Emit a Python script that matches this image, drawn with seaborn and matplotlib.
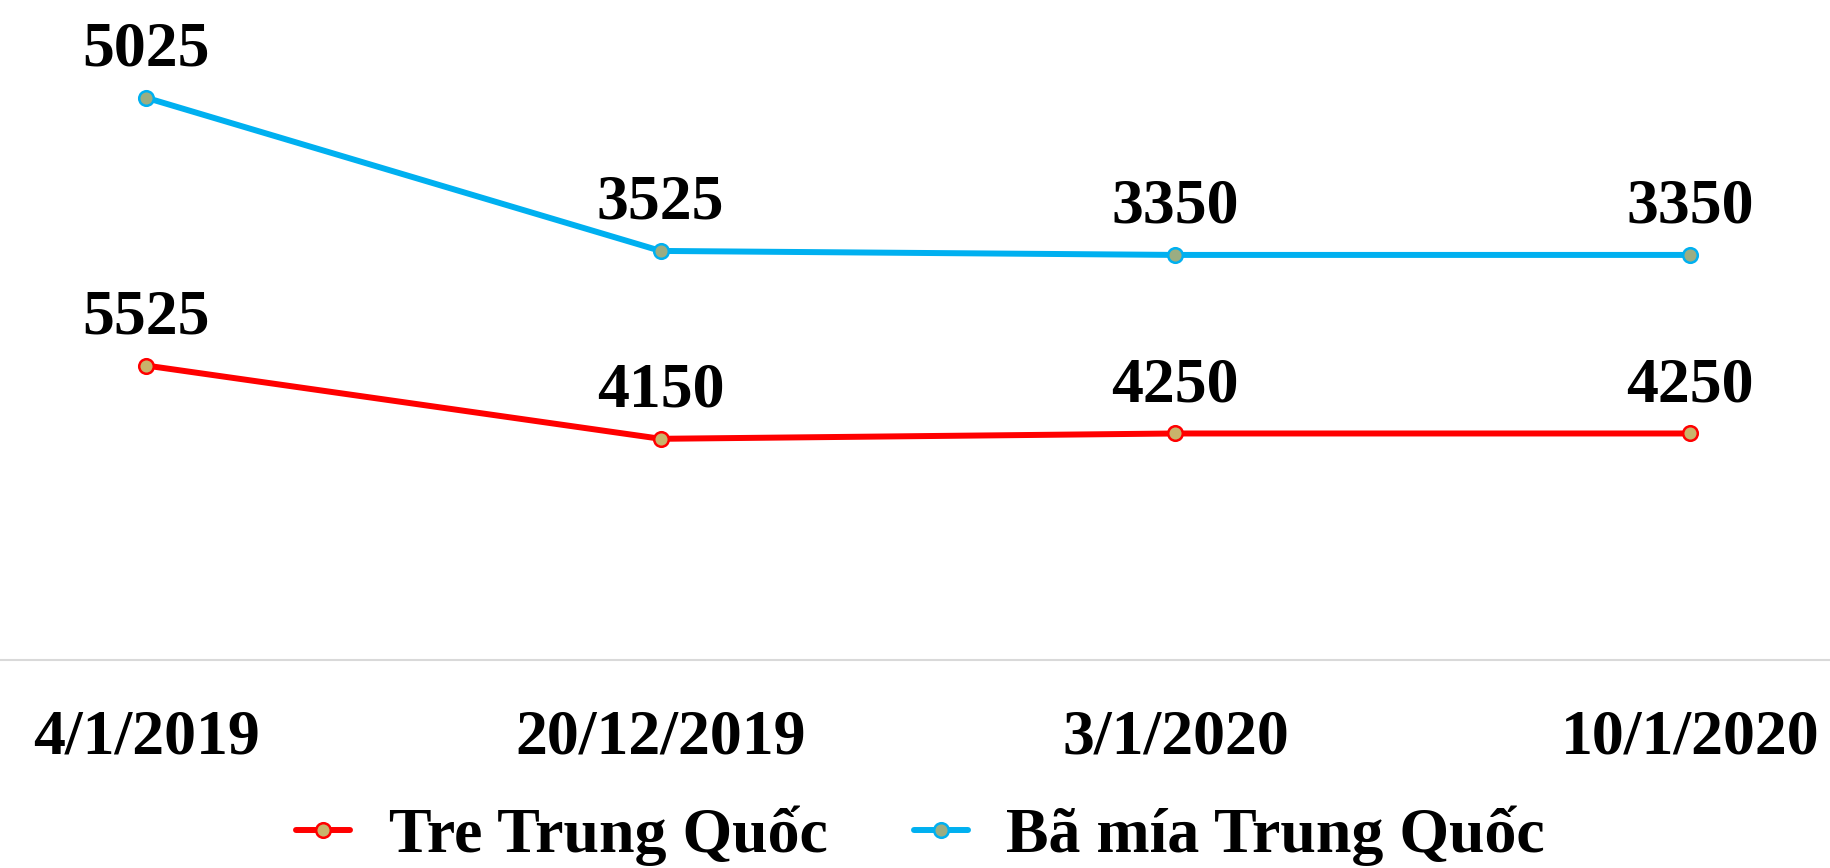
import pandas as pd
import numpy as np
import matplotlib
matplotlib.use('Agg')
import matplotlib.pyplot as plt
import seaborn as sns

# Data (stacked line chart)
dates = ['4/1/2019', '20/12/2019', '3/1/2020', '10/1/2020']
tre = [5525, 4150, 4250, 4250]
ba_mia = [5025, 3525, 3350, 3350]
series_names = ['Tre Trung Quốc', 'Bã mía Trung Quốc']

sns.set_style('white')
plt.rcParams['font.family'] = ['Liberation Serif', 'DejaVu Serif']
plt.rcParams['font.weight'] = 'bold'
plt.rcParams['text.color'] = 'black'
plt.rcParams['xtick.color'] = 'black'

# stacked values: second series sits on top of the first
df = pd.DataFrame({'date': dates, 'x': range(len(dates)), 'tre': tre, 'ba_mia': ba_mia})
df['tre_top'] = df['tre']
df['ba_top'] = df['tre'] + df['ba_mia']

fig = plt.figure(figsize=(18.3, 8.68), dpi=100)
ax = fig.add_axes([0, 208 / 868, 1, 660 / 868])

styles = [
    ('tre_top', 'tre', series_names[0], '#ff0000', '#c9b46b'),
    ('ba_top', 'ba_mia', series_names[1], '#00b0f0', '#9bad82'),
]
for ycol, vcol, name, col, face in styles:
    sns.lineplot(data=df, x='x', y=ycol, ax=ax, color=col, linewidth=4.3,
                 marker='o', markersize=10.5, markerfacecolor=face,
                 markeredgecolor=col, markeredgewidth=1.8, label=name)
    for xi, yi, v in zip(df['x'], df[ycol], df[vcol]):
        ax.annotate(f'{v}', (xi, yi), xytext=(0, 23), textcoords='offset points',
                    ha='center', va='baseline', fontsize=46, fontweight='bold',
                    color='black')

ax.set_xlim(-0.2837, 3.272)
ax.set_ylim(0, 12383)
ax.set_xticks(range(len(dates)))
ax.set_xticklabels(dates, fontsize=46, fontweight='bold', color='black')
ax.tick_params(axis='x', length=0, pad=36)
ax.set_yticks([])
ax.set_xlabel('')
ax.set_ylabel('')
for s in ['top', 'left', 'right']:
    ax.spines[s].set_visible(False)
ax.spines['bottom'].set_color('#d9d9d9')
ax.spines['bottom'].set_linewidth(1.5)

handles, labels = ax.get_legend_handles_labels()
ax.get_legend().remove()
leg = fig.legend(handles, labels, loc='center', bbox_to_anchor=(0.503, 32 / 868), ncol=2,
                 frameon=False, prop={'size': 46, 'weight': 'bold'},
                 handlelength=0.85, handletextpad=0.6, columnspacing=1.35)
for t in leg.get_texts():
    t.set_color('black')

fig.savefig('out.png', dpi=100)
